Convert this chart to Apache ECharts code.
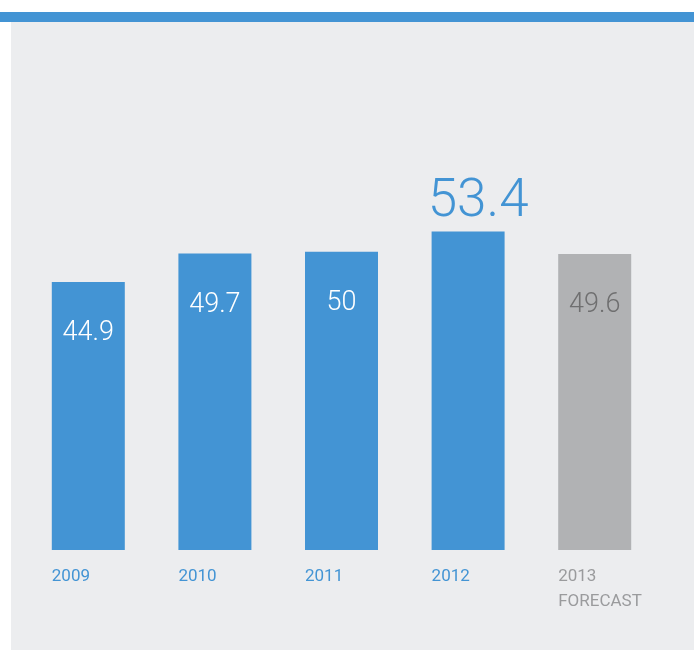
<!DOCTYPE html>
<html><head><meta charset="utf-8">
<script src="https://cdn.jsdelivr.net/npm/echarts@6/dist/echarts.min.js"></script>
<style>
html,body{margin:0;padding:0;background:#fff;width:694px;height:650px;overflow:hidden}
#topbar{position:absolute;left:0;top:12px;width:694px;height:10px;background:#4394d4}
#chart{position:absolute;left:11px;top:22px;width:683px;height:628px;background:#ecedef}
</style></head>
<body><div id="topbar"></div><div id="chart"></div>
<script>
const categories = ['2009', '2010', '2011', '2012', '2013\nFORECAST'];
const values = [44.9, 49.7, 50, 53.4, 49.6];
const highlightIndex = 3;
const forecastIndex = 4;

const BLUE = '#4394d4', GREY = '#b1b2b4';
const font = 'Roboto';
const chart = echarts.init(document.getElementById('chart'));
const data = values.map((v, i) => {
  const item = { value: v, itemStyle: { color: i === forecastIndex ? GREY : BLUE } };
  if (i === highlightIndex) {
    item.label = { position: 'top', distance: 2, offset: [10, 0], color: BLUE, fontSize: 53, fontWeight: 300 };
  } else if (i === forecastIndex) {
    item.label = { color: '#6f6f70' };
  }
  return item;
});
chart.setOption({
  animation: false,
  grid: { left: 14, right: 36, top: 170, bottom: 100 },
  xAxis: {
    type: 'category', data: categories,
    axisLine: { show: false }, axisTick: { show: false },
    axisLabel: {
      margin: 14, align: 'center', fontFamily: font,
      formatter: (v, i) => '{' + (i === forecastIndex ? 'g' : 'b') + '|' + v + '}',
      rich: {
        b: { width: 73, align: 'left', color: BLUE, fontSize: 17, fontFamily: font, lineHeight: 25 },
        g: { width: 73, align: 'left', color: '#9a9b9d', fontSize: 17, fontFamily: font, lineHeight: 25 }
      }
    }
  },
  yAxis: { type: 'value', min: 0, max: 60, show: false, splitLine: { show: false } },
  series: [{
    type: 'bar', barWidth: 73, data: data,
    label: { show: true, position: 'insideTop', distance: 38, color: '#fff', fontSize: 27, fontFamily: font, fontWeight: 300 }
  }]
});
</script></body></html>
